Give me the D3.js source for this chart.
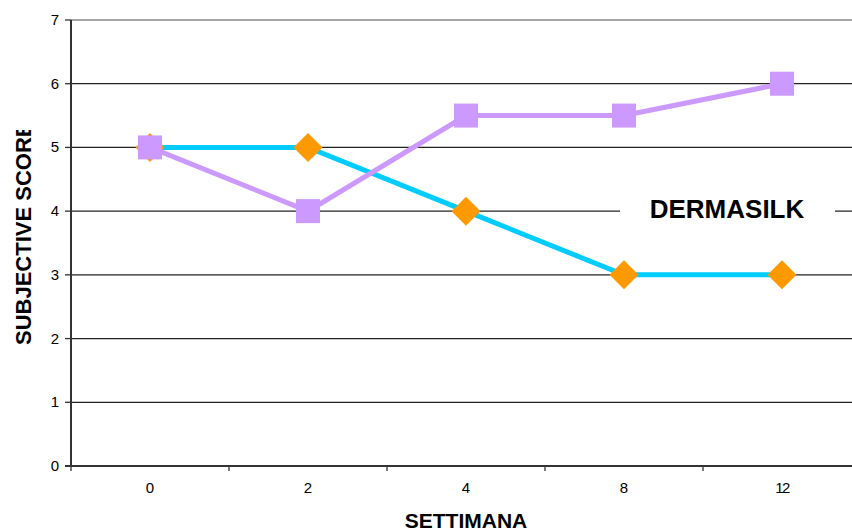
<!DOCTYPE html>
<html>
<head>
<meta charset="utf-8">
<script src="https://cdn.jsdelivr.net/npm/d3@7"></script>
<style>
  body { margin: 0; background: #fff; }
  text { font-family: "Liberation Sans", Arial, sans-serif; fill: #000; }
</style>
</head>
<body>
<div id="chart"></div>
<script>
const weeks = ["0", "2", "4", "8", "12"]
const cyanValues = [5, 5, 4, 3, 3]
const purpleValues = [5, 4, 5.5, 5.5, 6]
const yTicks = [0, 1, 2, 3, 4, 5, 6, 7]
const seriesLabel = "DERMASILK"
const xTitle = "SETTIMANA"
const yTitle = "SUBJECTIVE SCORE"

const width = 852, height = 532
const plot = { left: 71, right: 861, top: 20, bottom: 466 }

const svg = d3.select("#chart").append("svg")
  .attr("width", width)
  .attr("height", height)

const xScale = d3.scaleBand()
  .domain(weeks)
  .range([plot.left, plot.right])
const xCenter = d => xScale(d) + xScale.bandwidth() / 2

const yScale = d3.scaleLinear()
  .domain([0, 7])
  .range([plot.bottom, plot.top])

// gridlines
svg.append("g").selectAll("line")
  .data(yTicks.filter(d => d > 0))
  .join("line")
    .attr("x1", plot.left).attr("x2", width)
    .attr("y1", d => yScale(d)).attr("y2", d => yScale(d))
    .attr("stroke", d => d === 7 ? "#a6a6a6" : "#222")
    .attr("stroke-width", d => d === 7 ? 2 : 1.3)

// label box interrupting the gridline
svg.append("rect")
  .attr("x", 620).attr("y", 192)
  .attr("width", 215).attr("height", 38)
  .attr("fill", "#fff")
svg.append("text")
  .attr("x", 727).attr("y", 218)
  .attr("text-anchor", "middle")
  .attr("font-size", 26)
  .attr("font-weight", "bold")
  .text(seriesLabel)

// y axis
const yAxis = svg.append("g")
yAxis.append("line")
  .attr("x1", plot.left).attr("x2", plot.left)
  .attr("y1", plot.top).attr("y2", plot.bottom + 1)
  .attr("stroke", "#333").attr("stroke-width", 2)
yAxis.selectAll(".tick")
  .data(yTicks)
  .join("line")
    .attr("x1", plot.left - 6).attr("x2", plot.left)
    .attr("y1", d => yScale(d)).attr("y2", d => yScale(d))
    .attr("stroke", "#333").attr("stroke-width", 1.3)
yAxis.selectAll("text")
  .data(yTicks)
  .join("text")
    .attr("x", plot.left - 12)
    .attr("y", d => yScale(d) + 5)
    .attr("text-anchor", "end")
    .attr("font-size", 15)
    .text(d => d)

// x axis
const xAxis = svg.append("g")
xAxis.append("line")
  .attr("x1", plot.left - 6).attr("x2", width)
  .attr("y1", plot.bottom).attr("y2", plot.bottom)
  .attr("stroke", "#333").attr("stroke-width", 2)
xAxis.selectAll(".tick")
  .data(weeks)
  .join("line")
    .attr("x1", d => xScale(d)).attr("x2", d => xScale(d))
    .attr("y1", plot.bottom).attr("y2", plot.bottom + 5)
    .attr("stroke", "#333").attr("stroke-width", 1.3)
xAxis.selectAll("text")
  .data(weeks)
  .join("text")
    .attr("x", d => xCenter(d))
    .attr("y", 493)
    .attr("text-anchor", "middle")
    .attr("font-size", 15)
    .attr("letter-spacing", d => d.length > 1 ? -1.5 : 0)
    .text(d => d)

// axis titles
svg.append("text")
  .attr("x", (plot.left + plot.right) / 2)
  .attr("y", 528)
  .attr("text-anchor", "middle")
  .attr("font-size", 21)
  .attr("font-weight", "bold")
  .text(xTitle)

svg.append("clipPath").attr("id", "ytitle-clip")
  .append("rect").attr("x", 0).attr("y", 130).attr("width", 60).attr("height", 400)
svg.append("g").attr("clip-path", "url(#ytitle-clip)")
  .append("text")
    .attr("transform", "translate(31,345) rotate(-90)")
    .attr("font-size", 22)
    .attr("font-weight", "bold")
    .text(yTitle)

// series
const line = d3.line()
  .x((d, i) => xCenter(weeks[i]))
  .y(d => yScale(d))

svg.append("path")
  .datum(cyanValues)
  .attr("d", line)
  .attr("fill", "none")
  .attr("stroke", "#00ccff")
  .attr("stroke-width", 5)

svg.append("g").selectAll("path")
  .data(cyanValues)
  .join("path")
    .attr("transform", (d, i) => `translate(${xCenter(weeks[i])},${yScale(d)})`)
    .attr("d", "M0,-14.5L14.5,0L0,14.5L-14.5,0Z")
    .attr("fill", "#ff9900")

svg.append("path")
  .datum(purpleValues)
  .attr("d", line)
  .attr("fill", "none")
  .attr("stroke", "#cc99ff")
  .attr("stroke-width", 5)

svg.append("g").selectAll("rect")
  .data(purpleValues)
  .join("rect")
    .attr("x", (d, i) => xCenter(weeks[i]) - 12)
    .attr("y", d => yScale(d) - 12)
    .attr("width", 24).attr("height", 24)
    .attr("fill", "#cc99ff")
</script>
</body>
</html>
